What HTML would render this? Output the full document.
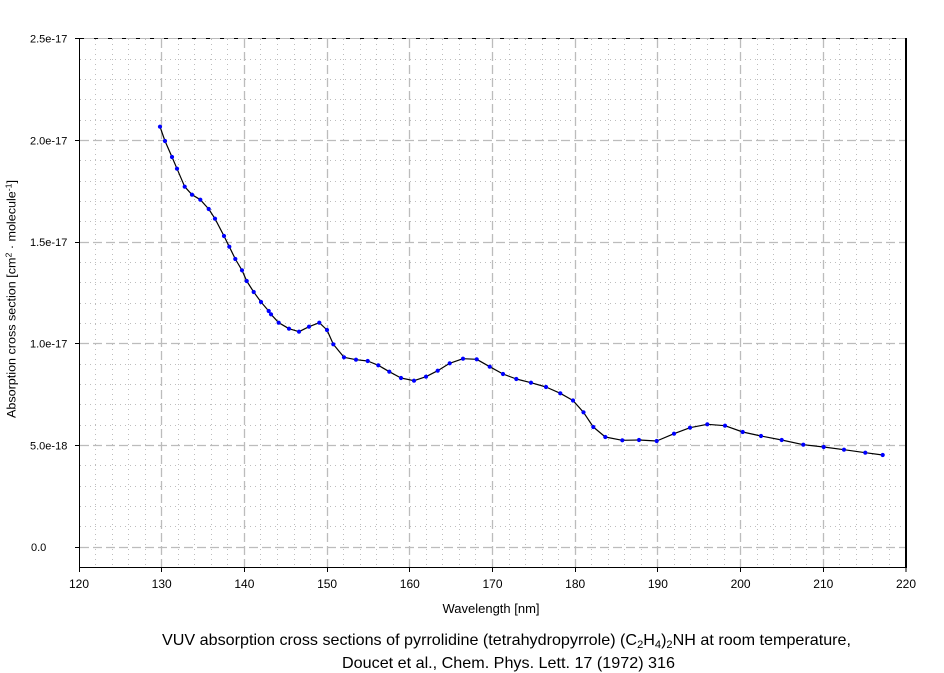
<!DOCTYPE html>
<html>
<head>
<meta charset="utf-8">
<style>
html,body{margin:0;padding:0;background:#fff;}
svg{display:block;}
text{font-family:"Liberation Sans",Arial,sans-serif;fill:#000;}
</style>
</head>
<body>
<svg width="944" height="673" viewBox="0 0 944 673" xmlns="http://www.w3.org/2000/svg">
<defs>
<marker id="dot" markerWidth="6" markerHeight="6" refX="3" refY="3" markerUnits="userSpaceOnUse">
<circle cx="3" cy="3" r="2.1" fill="#0000ff"/>
</marker>
</defs>
<rect x="0" y="0" width="944" height="673" fill="#fff"/>
<g stroke="#bdbdbd" stroke-width="1" stroke-dasharray="1,4" fill="none">
<path d="M95.5 39V567 M112.5 39V567 M128.5 39V567 M145.5 39V567 M178.5 39V567 M194.5 39V567 M211.5 39V567 M227.5 39V567 M260.5 39V567 M277.5 39V567 M294.5 39V567 M310.5 39V567 M343.5 39V567 M360.5 39V567 M376.5 39V567 M393.5 39V567 M426.5 39V567 M442.5 39V567 M459.5 39V567 M475.5 39V567 M509.5 39V567 M525.5 39V567 M542.5 39V567 M558.5 39V567 M591.5 39V567 M608.5 39V567 M624.5 39V567 M641.5 39V567 M674.5 39V567 M690.5 39V567 M707.5 39V567 M724.5 39V567 M757.5 39V567 M773.5 39V567 M790.5 39V567 M806.5 39V567 M839.5 39V567 M856.5 39V567 M872.5 39V567 M889.5 39V567"/>
<path d="M80 526.5H906 M80 506.5H906 M80 486.5H906 M80 465.5H906 M80 425.5H906 M80 404.5H906 M80 384.5H906 M80 364.5H906 M80 323.5H906 M80 303.5H906 M80 282.5H906 M80 262.5H906 M80 221.5H906 M80 201.5H906 M80 181.5H906 M80 160.5H906 M80 120.5H906 M80 99.5H906 M80 79.5H906 M80 59.5H906"/>
</g>
<g stroke="#bcbcbc" stroke-width="1.3" stroke-dasharray="9,4" fill="none">
<path d="M161.5 39V567 M244.5 39V567 M327.5 39V567 M409.5 39V567 M492.5 39V567 M575.5 39V567 M657.5 39V567 M740.5 39V567 M823.5 39V567"/>
<path d="M80 547.5H906 M80 445.5H906 M80 343.5H906 M80 242.5H906 M80 140.5H906"/>
</g>
<line x1="80" y1="38.5" x2="906" y2="38.5" stroke="#bcbcbc" stroke-width="1"/>
<line x1="80" y1="38.5" x2="906" y2="38.5" stroke="#000" stroke-width="1" stroke-dasharray="4,10"/>
<line x1="79.5" y1="38" x2="79.5" y2="568" stroke="#000" stroke-width="1"/>
<line x1="79" y1="567.5" x2="907" y2="567.5" stroke="#000" stroke-width="1"/>
<line x1="906" y1="38" x2="906" y2="568" stroke="#000" stroke-width="2"/>
<g stroke="#000" stroke-width="1" fill="none">
<path d="M75 38.5H80 M75 140.5H80 M75 242.5H80 M75 343.5H80 M75 445.5H80 M75 547.5H80"/>
<path d="M79.5 567V572 M161.5 567V572 M244.5 567V572 M327.5 567V572 M409.5 567V572 M492.5 567V572 M575.5 567V572 M657.5 567V572 M740.5 567V572 M823.5 567V572 M906 567V572"/>
</g>
<g font-size="11">
<text x="30" y="42.5">2.5e-17</text>
<text x="30" y="144.5">2.0e-17</text>
<text x="30" y="246">1.5e-17</text>
<text x="30" y="347.5">1.0e-17</text>
<text x="30" y="449.5">5.0e-18</text>
<text x="31" y="551">0.0</text>
</g>
<g font-size="12" text-anchor="middle">
<text x="79" y="588">120</text>
<text x="161.7" y="588">130</text>
<text x="244.4" y="588">140</text>
<text x="327.1" y="588">150</text>
<text x="409.8" y="588">160</text>
<text x="492.5" y="588">170</text>
<text x="575.2" y="588">180</text>
<text x="657.9" y="588">190</text>
<text x="740.6" y="588">200</text>
<text x="823.3" y="588">210</text>
<text x="906" y="588">220</text>
</g>
<text x="491" y="613" font-size="13" text-anchor="middle">Wavelength [nm]</text>
<text transform="translate(15.5,299) rotate(-90)" font-size="11.5" text-anchor="middle" textLength="238" lengthAdjust="spacingAndGlyphs">Absorption cross section [cm<tspan font-size="8" dy="-4">2</tspan><tspan dy="4"> · molecule</tspan><tspan font-size="8" dy="-4">-1</tspan><tspan dy="4">]</tspan></text>
<text x="162" y="645" font-size="16" textLength="689" lengthAdjust="spacingAndGlyphs">VUV absorption cross sections of pyrrolidine (tetrahydropyrrole) (C<tspan font-size="11" dy="3">2</tspan><tspan dy="-3">H</tspan><tspan font-size="11" dy="3">4</tspan><tspan dy="-3">)</tspan><tspan font-size="11" dy="3">2</tspan><tspan dy="-3">NH at room temperature,</tspan></text>
<text x="342" y="668" font-size="16" textLength="333" lengthAdjust="spacingAndGlyphs">Doucet et al., Chem. Phys. Lett. 17 (1972) 316</text>
<polyline fill="none" stroke="#000" stroke-width="1.2" stroke-linejoin="round" marker-start="url(#dot)" marker-mid="url(#dot)" marker-end="url(#dot)" points="160,126.7 165,141 172,157 177,168.7 184.7,186.7 192,194.7 200.3,199.7 208.7,209 215,218.7 224,236 229.3,246.7 235.3,259 242,270.3 246.7,281 253.7,292 261,302 268.7,311 271,314.3 278.7,322.7 289,328.7 299,331.7 309,326.7 319.3,322.7 327,330 333.3,344.3 344,357.3 356,359.7 367.7,361 378.3,365.3 389.3,371.7 401,378 414,380.7 426,376.7 437.7,370.7 449.7,363.3 463,358.7 476.7,359.3 489.7,366.7 503,374 516.3,379 531,382.7 546,387 560.3,393.3 573,400.5 583.5,412.3 593.3,427 605.3,437 622.3,440.3 639,440 656.7,441 674,433.7 690,427.7 707.3,424.3 725,425.7 742.7,432 761,436 781.7,440 803.3,444.7 823.7,447 844,449.7 865.3,452.7 882.7,455"/>
</svg>
</body>
</html>
